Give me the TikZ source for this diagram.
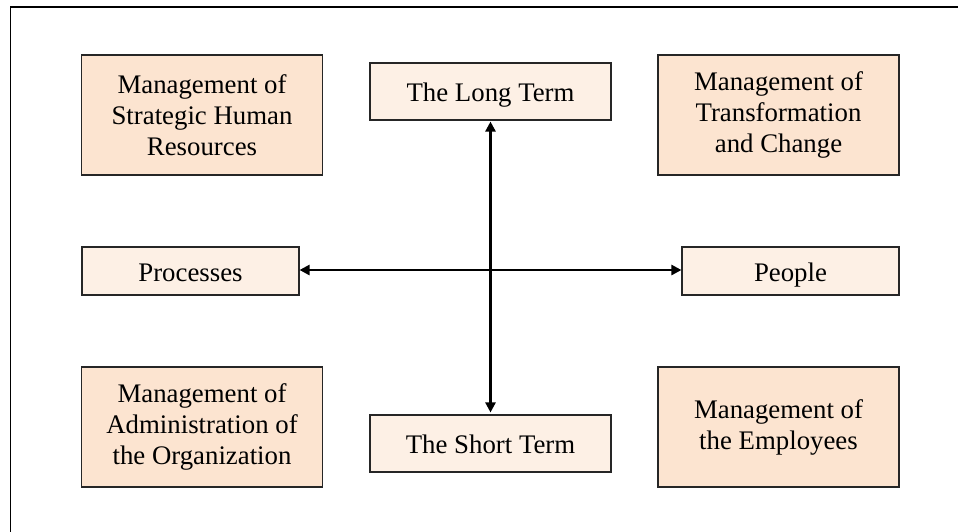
\documentclass[tikz,border=0pt]{standalone}
\usepackage{fontspec}
\setmainfont{Liberation Serif}
\usetikzlibrary{arrows.meta}
\definecolor{mgmtfill}{HTML}{FCE4D0}
\definecolor{axisfill}{HTML}{FDF0E5}
\begin{document}
\begin{tikzpicture}[x=1pt,y=-1pt,
  box/.style={draw=black!85, line width=1.1pt, inner sep=0pt, align=center,
    font=\fontsize{26.8}{31}\selectfont},
  mgmt/.style={box, fill=mgmtfill, minimum width=241pt, minimum height=120pt},
  axis/.style={box, fill=axisfill, minimum height=48pt, text height=22pt, text depth=2pt},
  tip/.tip={Triangle[length=10pt,width=10pt]},
  link/.style={line width=2.4pt, tip-tip}]
  \useasboundingbox (0,0) rectangle (958,531);
  % outer frame (runs past the right and bottom edges)
  \draw[line width=1.2pt] (10.5,540) -- (10.5,7) -- (970,7);
  % corner boxes
  \node[mgmt] (shr) at (202,115) {Management of\\Strategic Human\\Resources};
  \node[mgmt] (trc) at (778.5,115) {Management of\\Transformation\\and Change};
  \node[mgmt] (adm) at (202,427) {Management of\\Administration of\\the Organization};
  \node[mgmt] (emp) at (778.5,427) {Management of\\the Employees};
  % axis boxes
  \node[axis, minimum width=241pt, minimum height=57pt] (lt) at (490.5,91.5) {The Long Term};
  \node[axis, minimum width=241pt, minimum height=57pt] (st) at (490.5,443.5) {The Short Term};
  \node[axis, minimum width=217pt] (proc) at (190.5,271) {Processes};
  \node[axis, minimum width=217pt] (ppl) at (790.5,271) {People};
  % axes
  \draw[link] ([yshift=-1pt]lt.south) -- ([yshift=2pt]st.north);
  \draw[link] ([yshift=1pt]proc.east) -- ([yshift=1pt]ppl.west);
\end{tikzpicture}
\end{document}
